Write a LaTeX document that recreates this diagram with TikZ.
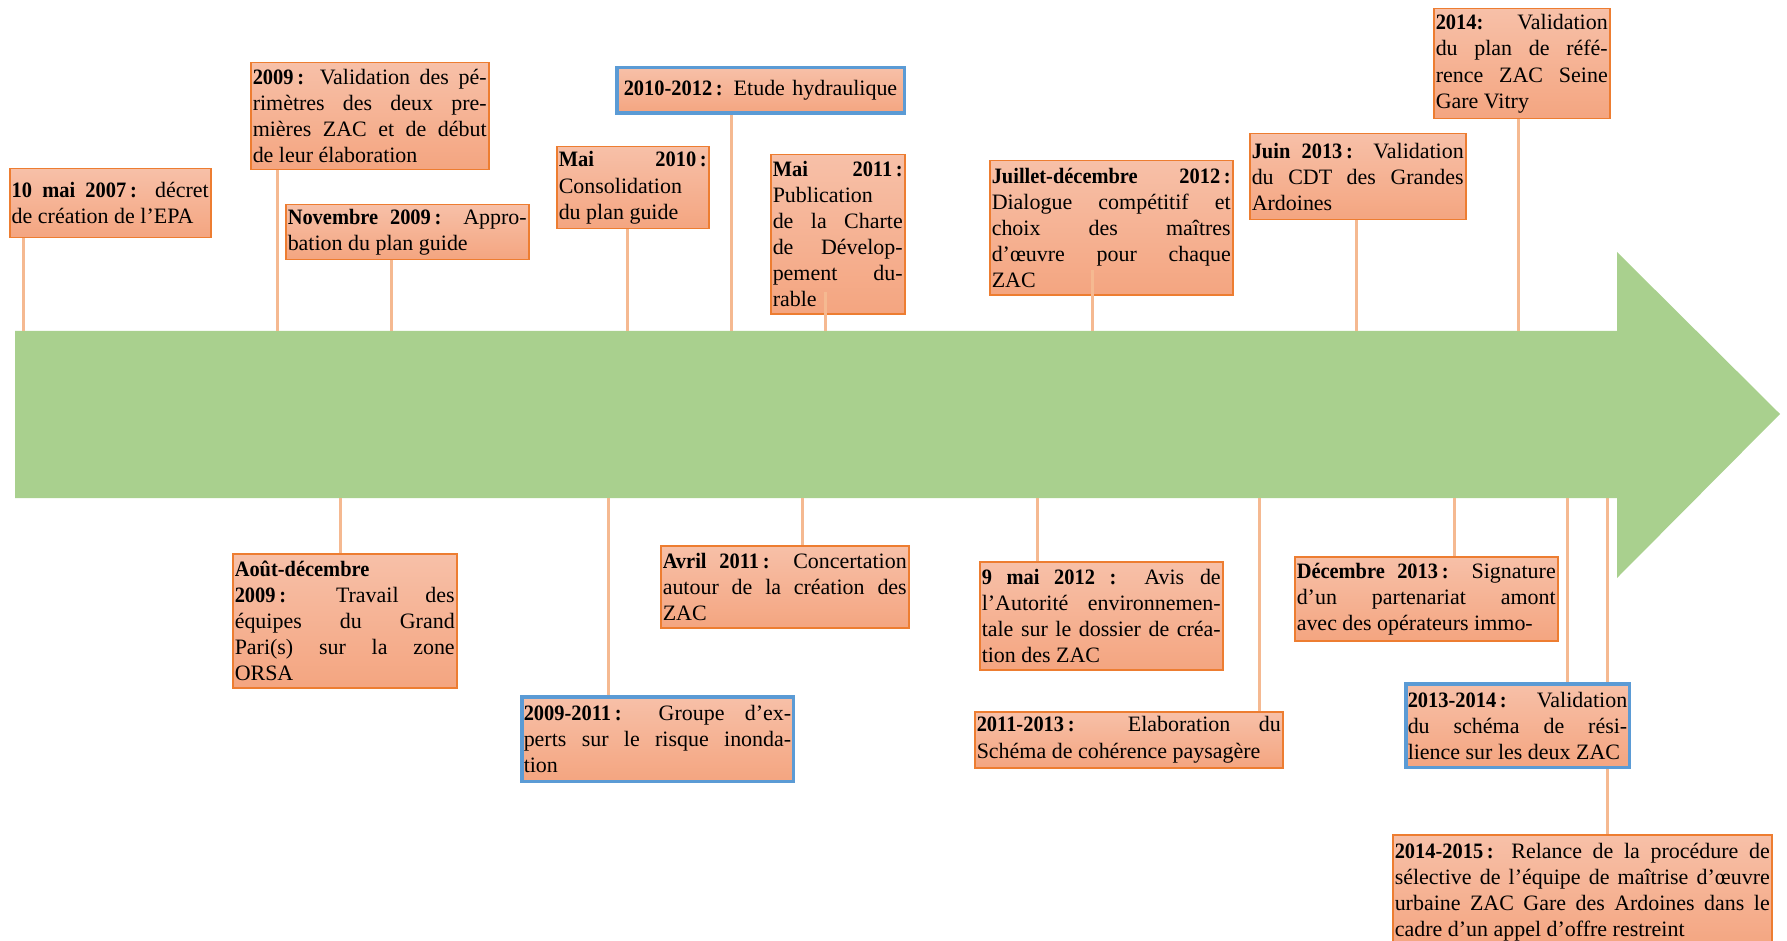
\documentclass[tikz,border=0pt]{standalone}
\usepackage{fontspec}
\setmainfont{Liberation Serif}[BoldFeatures={FakeStretch=0.93}]
\usetikzlibrary{calc}
\definecolor{tlGreen}{RGB}{169,208,142}
\definecolor{tlOrange}{RGB}{237,125,49}
\definecolor{tlTop}{RGB}{247,192,168}
\definecolor{tlBot}{RGB}{244,165,128}
\definecolor{tlTick}{RGB}{245,185,145}
\definecolor{tlBlue}{RGB}{91,155,213}
\pgfdeclarelayer{background}
\pgfsetlayers{background,main}
\newcommand\evfont{\fontsize{12.5}{14.8}\selectfont\tolerance=10000\hyphenpenalty=10000}

\begin{document}
\begin{tikzpicture}[x=0.2mm, y=-0.2mm,
    ev/.style 2 args={rectangle, draw=tlOrange, line width=0.3mm,
               top color=tlTop, bottom color=tlBot, anchor=north west,
               inner xsep=0.4mm, inner ysep=0.3mm, text width=#1,
               minimum height=#2, align=justify, font=\evfont},
    evb/.style={draw=tlBlue, line width=0.7mm},
    tick/.style={draw=tlTick, line width=0.6mm}
  ]
  \useasboundingbox (0,0) rectangle (1787,941);
  \fill[tlGreen] (15,331) -- (1617,331) -- (1617,252) -- (1780,414)
    -- (1617,578) -- (1617,498) -- (15,498) -- cycle;
  \coordinate (atop) at (0,331);
  \coordinate (abot) at (0,498);

  % above the arrow
  \node[ev={39.4mm}{13.8mm}] (b07) at (9,168)
    {\textbf{10 mai 2007\,:} décret\linebreak de création de l’EPA};
  \node[ev={46.8mm}{21.4mm}] (b09) at (250,62)
    {\textbf{2009\,:} Validation des pé-\linebreak rimètres des deux pre-\linebreak
     mières ZAC et de début\linebreak de leur élaboration};
  \node[ev={47.8mm}{11mm}] (bNov09) at (285,204)
    {\textbf{Novembre 2009\,:} Appro-\linebreak bation du plan guide};
  \node[ev={56.7mm}{9.1mm}, evb, align=center] (bHyd) at (615,66)
    {\textbf{2010-2012\,:} Etude hydraulique};
  \node[ev={29.6mm}{16.4mm}] (bMai10) at (556,146)
    {\textbf{Mai 2010\,:}\linebreak Consolidation\\ du plan guide};
  \node[ev={26mm}{31.8mm}] (bMai11) at (770,154)
    {\textbf{Mai 2011\,:}\linebreak Publication\\ de la Charte\linebreak
     de Dévelop-\linebreak pement du-\linebreak rable};
  \node[ev={47.8mm}{26.8mm}] (bJuil12) at (989,160)
    {\textbf{Juillet-décembre 2012\,:}\linebreak Dialogue compétitif et\linebreak
     choix des maîtres\linebreak d’œuvre pour chaque\linebreak ZAC};
  \node[ev={42.4mm}{17.2mm}] (bJuin13) at (1249,133)
    {\textbf{Juin 2013\,:} Validation\linebreak du CDT des Grandes\linebreak Ardoines};
  \node[ev={34.4mm}{22mm}] (b14) at (1433,8)
    {\textbf{2014:} Validation\linebreak du plan de réfé-\linebreak
     rence ZAC Seine\linebreak Gare Vitry};

  % below the arrow
  \node[ev={44mm}{26.8mm}] (bAout09) at (232,553)
    {\textbf{Août-décembre}\\ \textbf{2009\,:} Travail des\linebreak
     équipes du Grand\linebreak Pari(s) sur la zone\linebreak ORSA};
  \node[ev={53.5mm}{16.9mm}, evb] (bExp) at (520,695)
    {\textbf{2009-2011\,:} Groupe d’ex-\linebreak perts sur le risque inonda-\linebreak tion};
  \node[ev={48.8mm}{16.4mm}] (bAvr11) at (660,545)
    {\textbf{Avril 2011\,:} Concertation\linebreak autour de la création des\linebreak ZAC};
  \node[ev={47.8mm}{21.6mm}] (bMai12) at (979,561)
    {\textbf{9 mai 2012 :} Avis de\linebreak l’Autorité environnemen-\linebreak
     tale sur le dossier de créa-\linebreak tion des ZAC};
  \node[ev={60.8mm}{11.2mm}] (bPays) at (974,711)
    {\textbf{2011-2013\,:} Elaboration du\linebreak Schéma de cohérence paysagère};
  \node[ev={51.8mm}{16.8mm}] (bDec13) at (1294,556)
    {\parfillskip=0pt \textbf{Décembre 2013\,:} Signature\linebreak
     d’un partenariat amont\linebreak avec des opérateurs immo-};
  \node[ev={75mm}{23mm}] (b1415) at (1392,834)
    {\textbf{2014-2015\,:} Relance de la procédure de\linebreak
     sélective de l’équipe de maîtrise d’œuvre\linebreak
     urbaine ZAC Gare des Ardoines dans le\linebreak
     cadre d’un appel d’offre restreint};
  \node[ev={43.9mm}{16.7mm}, evb] (bRes) at (1404,682)
    {\textbf{2013-2014\,:} Validation\linebreak du schéma de rési-\linebreak
     lience sur les deux ZAC};

  \foreach \b/\x in {b07/23, b09/277, bNov09/391, bMai10/627, bHyd/731,
                     bJuin13/1356, b14/1518} {
    \path (\x,0) coordinate (tx);
    \draw[tick] (\b.south -| tx) -- (tx |- atop);
  }
  \foreach \b/\x/\up in {bMai11/825/23, bJuil12/1092/26} {
    \path (\x,0) coordinate (tx);
    \draw[tick] ($(\b.south -| tx)+(0,-\up)$) -- (tx |- atop);
  }
  \foreach \b/\x in {bAout09/340, bExp/608, bAvr11/802, bMai12/1037,
                     bPays/1259, bDec13/1454, bRes/1567} {
    \path (\x,0) coordinate (tx);
    \draw[tick] (tx |- abot) -- (\b.north -| tx);
  }
  \begin{pgfonlayer}{background}
    \path (1607,0) coordinate (tx);
    \draw[tick] (tx |- abot) -- (b1415.north -| tx);
  \end{pgfonlayer}
\end{tikzpicture}
\end{document}
